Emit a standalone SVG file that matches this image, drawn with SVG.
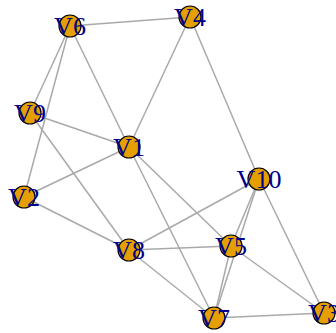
<svg xmlns="http://www.w3.org/2000/svg" width="336" height="333" viewBox="0 0 336 333">
<style>
.e{stroke:#A9A9A9;stroke-width:1.5;fill:none}
.n circle{fill:#E69F00;stroke:#000;stroke-width:1.2}
.n text{font-family:"Liberation Serif",serif;font-size:26px;fill:#00008B;text-anchor:middle}
</style>
<rect width="336" height="333" fill="#fff"/>
<g id="edges">
<line class="e" x1="70" y1="26" x2="190" y2="17"/>
<line class="e" x1="70" y1="26" x2="30" y2="113"/>
<line class="e" x1="70" y1="26" x2="24" y2="197"/>
<line class="e" x1="70" y1="26" x2="129" y2="147"/>
<line class="e" x1="190" y1="17" x2="129" y2="147"/>
<line class="e" x1="190" y1="17" x2="259" y2="179"/>
<line class="e" x1="30" y1="113" x2="129" y2="147"/>
<line class="e" x1="30" y1="113" x2="129" y2="250"/>
<line class="e" x1="24" y1="197" x2="129" y2="147"/>
<line class="e" x1="24" y1="197" x2="129" y2="250"/>
<line class="e" x1="129" y1="147" x2="231" y2="246"/>
<line class="e" x1="129" y1="147" x2="214" y2="318"/>
<line class="e" x1="129" y1="250" x2="259" y2="179"/>
<line class="e" x1="129" y1="250" x2="231" y2="246"/>
<line class="e" x1="129" y1="250" x2="214" y2="318"/>
<line class="e" x1="259" y1="179" x2="231" y2="246"/>
<line class="e" x1="259" y1="179" x2="214" y2="318"/>
<line class="e" x1="259" y1="179" x2="324" y2="313"/>
<line class="e" x1="231" y1="246" x2="214" y2="318"/>
<line class="e" x1="231" y1="246" x2="324" y2="313"/>
<line class="e" x1="214" y1="318" x2="324" y2="313"/>
</g>
<g id="V6" class="n"><circle cx="70" cy="26" r="11"/><text x="70" y="35">V6</text></g>
<g id="V4" class="n"><circle cx="190" cy="17" r="11"/><text x="190" y="26">V4</text></g>
<g id="V9" class="n"><circle cx="30" cy="113" r="11"/><text x="30" y="122">V9</text></g>
<g id="V1" class="n"><circle cx="129" cy="147" r="11"/><text x="129" y="156">V1</text></g>
<g id="V2" class="n"><circle cx="24" cy="197" r="11"/><text x="24" y="206">V2</text></g>
<g id="V10" class="n"><circle cx="259" cy="179" r="11"/><text x="259" y="188">V10</text></g>
<g id="V8" class="n"><circle cx="129" cy="250" r="11"/><text x="129" y="259">V8</text></g>
<g id="V5" class="n"><circle cx="231" cy="246" r="11"/><text x="231" y="255">V5</text></g>
<g id="V7" class="n"><circle cx="214" cy="318" r="11"/><text x="214" y="327">V7</text></g>
<g id="V3" class="n"><circle cx="324" cy="313" r="11"/><text x="324" y="322">V3</text></g>
</svg>
